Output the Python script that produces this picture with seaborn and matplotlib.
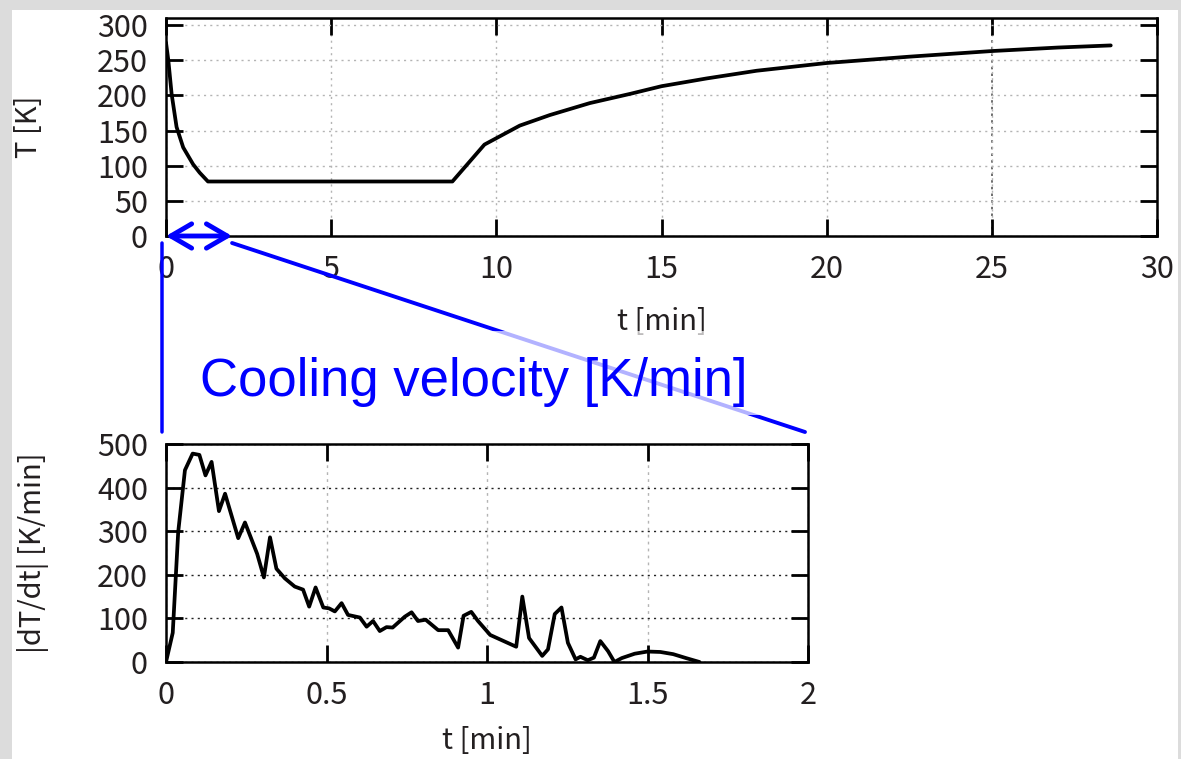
import numpy as np
import pandas as pd
import matplotlib
matplotlib.use("Agg")
import matplotlib.pyplot as plt
import seaborn as sns
from matplotlib.patches import ConnectionPatch, Rectangle, ArrowStyle
from matplotlib.transforms import offset_copy

# =============================================================================
# Data
# =============================================================================
# temperature history T(t)
T_TIME_MIN = [0.0, 0.07, 0.17, 0.32, 0.52, 0.82, 1.02, 1.27, 8.67, 9.64,
              10.71, 11.62, 12.83, 14.04, 15.0, 16.36, 17.88, 20.0, 22.5,
              25.0, 27.0, 28.6]
T_KELVIN = [275, 250, 202, 155, 126, 102, 90, 77.5, 77.5, 130,
            157, 172, 189, 202, 213, 224, 235, 246, 255,
            263, 268, 271]

# cooling velocity |dT/dt| for the first two minutes
V_TIME_MIN = [0.000, 0.021, 0.038, 0.059, 0.083, 0.104, 0.123, 0.142, 0.165, 0.184,
              0.225, 0.246, 0.284, 0.305, 0.324, 0.344, 0.370, 0.401, 0.427, 0.446,
              0.466, 0.490, 0.508, 0.526, 0.547, 0.567, 0.604, 0.625, 0.645, 0.666,
              0.687, 0.706, 0.744, 0.765, 0.785, 0.809, 0.848, 0.879, 0.910, 0.927,
              0.951, 0.972, 1.010, 1.091, 1.110, 1.131, 1.172, 1.190, 1.211, 1.232,
              1.252, 1.276, 1.291, 1.314, 1.333, 1.353, 1.377, 1.397, 1.420, 1.460,
              1.500, 1.540, 1.580, 1.620, 1.662]
V_K_PER_MIN = [0, 67, 298, 440, 478, 475, 428, 459, 346, 386,
               284, 320, 248, 194, 286, 214, 192, 173, 166, 127,
               171, 125, 123, 116, 135, 108, 102, 81, 94, 71,
               80, 79, 104, 114, 94, 97, 73, 73, 33, 106,
               115, 94, 62, 35, 150, 55, 14, 29, 110, 125,
               44, 6, 12, 4, 10, 48, 25, 0, 9, 19,
               24, 23, 18, 9, 0]

TOP_XTICKS = [0, 5, 10, 15, 20, 25, 30]
TOP_YTICKS = [0, 50, 100, 150, 200, 250, 300]
BOT_XTICKS = [0, 0.5, 1, 1.5, 2]
BOT_XTICKLABELS = ["0", "0.5", "1", "1.5", "2"]
BOT_YTICKS = [0, 100, 200, 300, 400, 500]

ZOOM_END_MIN = 2.0

# =============================================================================
# Style
# =============================================================================
sns.set_theme(style="ticks")
plt.rcParams["font.family"] = ["Noto Sans CJK JP", "DejaVu Sans"]

W, H = 1181, 759
BG_GREY = "#dcdcdc"
TEXT_COL = "#231f20"
GRID_LIGHT = "#b4b4b4"
BLUE = "#0000ff"
TICK_FS = 22
LABEL_FS = 21


def style_axes(ax):
    for sp in ax.spines.values():
        sp.set_visible(True)
        sp.set_linewidth(1.8)
        sp.set_color("black")
    ax.tick_params(axis="both", which="major", direction="in", length=12,
                   width=2.0, bottom=True, left=True, top=True, right=True,
                   labelsize=TICK_FS, pad=13, color="black",
                   labelcolor=TEXT_COL)
    ax.set_facecolor("white")


fig = plt.figure(figsize=(W / 100, H / 100), dpi=100, facecolor=BG_GREY)
fig.add_artist(Rectangle((12 / W, 0), (1178 - 12) / W, 1 - 10 / H,
                         transform=fig.transFigure, facecolor="white",
                         edgecolor="none", zorder=-10))

ax1 = fig.add_axes([166 / W, 1 - 236 / H, (1157 - 166) / W, 218 / H])
ax2 = fig.add_axes([166 / W, 1 - 662 / H, (808 - 166) / W, 218 / H])

df_T = pd.DataFrame({"t": T_TIME_MIN, "T": T_KELVIN})
df_v = pd.DataFrame({"t": V_TIME_MIN, "v": V_K_PER_MIN})

# -----------------------------------------------------------------------------
# Top: temperature
# -----------------------------------------------------------------------------
sns.lineplot(data=df_T, x="t", y="T", ax=ax1, color="black", lw=2.7,
             estimator=None, sort=False)
ax1.set_xlim(0, 30)
ax1.set_ylim(0, 310)
ax1.set_xticks(TOP_XTICKS)
ax1.set_yticks(TOP_YTICKS)
style_axes(ax1)
ax1.grid(True, color=GRID_LIGHT, linestyle=(0, (1.5, 3)), lw=1)
ax1.axvline(25, color="#555555", linestyle=(0, (1.5, 2.5)), lw=1.2, zorder=0.5)
ax1.set_xlabel("t [min]", fontsize=LABEL_FS, color=TEXT_COL)
ax1.set_ylabel("T [K]", fontsize=LABEL_FS, color=TEXT_COL)
ax1.xaxis.set_label_coords(0.5, -0.325)
ax1.yaxis.set_label_coords(-0.123, 0.5)

# -----------------------------------------------------------------------------
# Bottom: cooling velocity
# -----------------------------------------------------------------------------
sns.lineplot(data=df_v, x="t", y="v", ax=ax2, color="black", lw=2.7,
             estimator=None, sort=False)
ax2.set_xlim(0, ZOOM_END_MIN)
ax2.set_ylim(0, 500)
ax2.set_xticks(BOT_XTICKS)
ax2.set_xticklabels(BOT_XTICKLABELS)
ax2.set_yticks(BOT_YTICKS)
style_axes(ax2)
ax2.yaxis.grid(True, color="#222222", linestyle=(0, (1.5, 3)), lw=1)
ax2.xaxis.grid(True, color=GRID_LIGHT, linestyle=(0, (2, 3)), lw=1)
ax2.set_xlabel("t [min]", fontsize=LABEL_FS, color=TEXT_COL)
ax2.set_ylabel("|dT/dt| [K/min]", fontsize=LABEL_FS, color=TEXT_COL)
ax2.xaxis.set_label_coords(0.5, -0.295)
ax2.yaxis.set_label_coords(-0.183, 0.5)

# -----------------------------------------------------------------------------
# Blue zoom annotations
# -----------------------------------------------------------------------------
ax1.annotate("", xy=(0, 0), xytext=(ZOOM_END_MIN, 0), xycoords="data",
             arrowprops=dict(arrowstyle=ArrowStyle("<->", head_length=0.6,
                                                   head_width=0.35),
                             color=BLUE, lw=3.5, mutation_scale=25,
                             shrinkA=0, shrinkB=0),
             annotation_clip=False, zorder=10)

con_left = ConnectionPatch(
    xyA=(0, 0), coordsA=offset_copy(ax1.transData, fig=fig, x=-4, y=-7, units="dots"),
    xyB=(0, 500), coordsB=offset_copy(ax2.transData, fig=fig, x=-4, y=12, units="dots"),
    color=BLUE, lw=2.5, shrinkA=0, shrinkB=0)
con_right = ConnectionPatch(
    xyA=(ZOOM_END_MIN, 0), coordsA=offset_copy(ax1.transData, fig=fig, x=0, y=-7, units="dots"),
    xyB=(ZOOM_END_MIN, 500), coordsB=offset_copy(ax2.transData, fig=fig, x=-3, y=12, units="dots"),
    color=BLUE, lw=2.8, shrinkA=0, shrinkB=0)
fig.add_artist(con_left)
fig.add_artist(con_right)

# semi-transparent white box behind the label (lightens the diagonal line)
fig.add_artist(Rectangle((0.037, 1.133), 0.888, 0.385, transform=ax2.transAxes,
                         facecolor="white", alpha=0.7, edgecolor="none",
                         zorder=4))
fig.text(0.48, 1.284, "Cooling velocity [K/min]", transform=ax2.transAxes,
         ha="center", va="center", fontsize=38, color=BLUE,
         family=["Liberation Sans", "DejaVu Sans"], zorder=5)

fig.savefig("out.png", dpi=100, facecolor=fig.get_facecolor())
